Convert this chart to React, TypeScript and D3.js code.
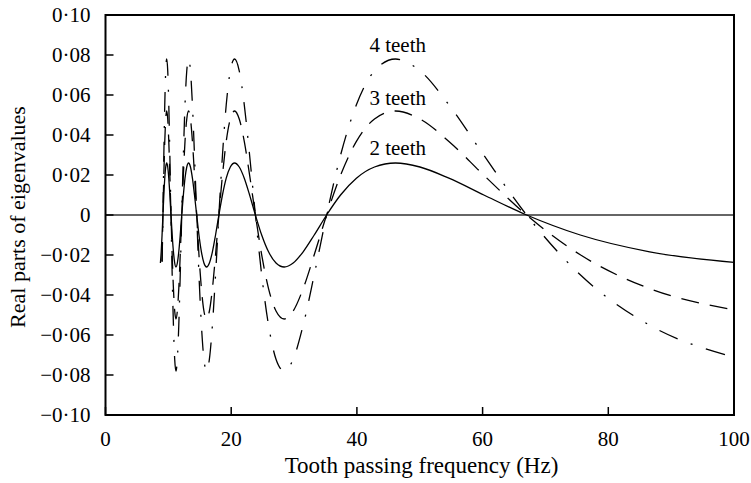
import React from 'react';
import * as d3 from 'd3';

// Tooth passing frequency (Hz) sample points
const freqs = [
  8.735, 8.865, 9.0,
  9.139, 9.282, 9.43, 9.582, 9.739, 9.902, 10.07, 10.24, 10.42, 10.61, 10.81, 11.01, 11.21, 11.43, 11.66, 11.89,
  12.13, 12.39, 12.65, 12.93, 13.21, 13.52, 13.83, 14.16, 14.51, 14.87, 15.26, 15.66, 16.08, 16.53, 17.01, 17.51,
  18.04, 18.61, 19.21, 19.86, 20.54, 21.28, 22.08, 22.93, 23.85, 24.85, 25.94, 27.13, 28.43, 29.86, 31.45, 33.21,
  35.18, 37.4, 39.92, 42.8, 46.14, 50.03, 54.64, 60.19, 67.0, 75.54, 86.58, 100,
];

const teeth2: (number | null)[] = [
  -0.024, -0.0184, -0.01,
  0, 0.01, 0.0184, 0.024, 0.026, 0.024, 0.0184, 0.01, 0, -0.01, -0.0184, -0.024, -0.026, -0.024, -0.0184, -0.01,
  0, 0.01, 0.0184, 0.024, 0.026, 0.024, 0.0184, 0.01, 0, -0.01, -0.0184, -0.024, -0.026, -0.024, -0.0184, -0.01,
  0, 0.01, 0.0184, 0.024, 0.026, 0.024, 0.0184, 0.01, 0, -0.01, -0.0184, -0.024, -0.026, -0.024, -0.0184, -0.01,
  0, 0.01, 0.0184, 0.024, 0.026, 0.024, 0.0184, 0.01, 0, -0.01, -0.0184, -0.0237,
];

const teeth3: (number | null)[] = [
  null, null, -0.023,
  0, 0.0199, 0.0368, 0.048, 0.052, 0.048, 0.0368, 0.0199, 0, -0.0199, -0.0368, -0.048, -0.052, -0.048, -0.0368, -0.0199,
  0, 0.0199, 0.0368, 0.048, 0.052, 0.048, 0.0368, 0.0199, 0, -0.0199, -0.0368, -0.048, -0.052, -0.048, -0.0368, -0.0199,
  0, 0.0199, 0.0368, 0.048, 0.052, 0.048, 0.0368, 0.0199, 0, -0.0199, -0.0368, -0.048, -0.052, -0.048, -0.0368, -0.0199,
  0, 0.0199, 0.0368, 0.048, 0.052, 0.048, 0.0368, 0.0199, 0, -0.0199, -0.0368, -0.0474,
];

const teeth4: (number | null)[] = [
  null, null, -0.0235,
  0, 0.0299, 0.0551, 0.0721, 0.078, 0.0721, 0.0551, 0.0299, 0, -0.0299, -0.0551, -0.0721, -0.078, -0.0721, -0.0551, -0.0299,
  0, 0.0299, 0.0551, 0.0721, 0.078, 0.0721, 0.0551, 0.0299, 0, -0.0299, -0.0551, -0.0721, -0.078, -0.0721, -0.0551, -0.0299,
  0, 0.0299, 0.0551, 0.0721, 0.078, 0.0721, 0.0551, 0.0299, 0, -0.0299, -0.0551, -0.0721, -0.078, -0.0721, -0.0551, -0.0299,
  0, 0.0299, 0.0551, 0.0721, 0.078, 0.0721, 0.0551, 0.0299, 0, -0.0299, -0.0551, -0.0711,
];

const seriesNames = ['2 teeth', '3 teeth', '4 teeth'];
const xTicks = [0, 20, 40, 60, 80, 100];
const yTicks = [-0.1, -0.08, -0.06, -0.04, -0.02, 0, 0.02, 0.04, 0.06, 0.08, 0.1];

const W = 751;
const H = 483;
const FONT_ATTR = 'Liberation Serif, Times New Roman, Tinos, serif';

const fmtY = (v: number) => {
  if (Math.abs(v) < 1e-9) return '0';
  return (v < 0 ? '\u2212' : '') + Math.abs(v).toFixed(2).replace('.', '\u00b7');
};

export default function App() {
  const x = d3.scaleLinear().domain([0, 100]).range([105.5, 734]);
  const y = d3.scaleLinear().domain([-0.1, 0.1]).range([415, 15]);

  const makePath = (vals: (number | null)[]) => {
    const pts = freqs.map((f, i) => [f, vals[i]] as [number, number | null]);
    const line = d3
      .line<[number, number | null]>()
      .defined((d) => d[1] !== null)
      .x((d) => x(d[0]))
      .y((d) => y(d[1] as number))
      .curve(d3.curveMonotoneX);
    return line(pts) || '';
  };

  const series = [
    { vals: teeth2, dash: undefined as string | undefined },
    { vals: teeth3, dash: '18 11' },
    { vals: teeth4, dash: '20 14 2 14' },
  ];

  // label anchor positions (data units)
  const labelPos: [number, number][] = [
    [46.5, 0.03],
    [46.5, 0.055],
    [46.5, 0.0813],
  ];

  const [x0, x1] = x.range();
  const [yb, yt] = y.range();

  return (
    <svg width={W} height={H} style={{ position: 'absolute', left: 0, top: 0 }}>
      <style>{`text { font-family: 'Liberation Serif', 'Times New Roman', Tinos, serif !important; }`}</style>
      <rect x={0} y={0} width={W} height={H} fill="#fff" />
      {/* zero line */}
      <line x1={x0} x2={x1} y1={y(0)} y2={y(0)} stroke="#333" strokeWidth={1.3} />
      {/* curves */}
      {series.map((s, i) => (
        <path
          key={i}
          d={makePath(s.vals)}
          fill="none"
          stroke="#000"
          strokeWidth={1.3}
          strokeDasharray={s.dash}
        />
      ))}
      {/* frame */}
      <rect x={x0} y={yt} width={x1 - x0} height={yb - yt} fill="none" stroke="#000" strokeWidth={2} />
      <g fontFamily={FONT_ATTR} fill="#000">
        {/* y ticks */}
        {yTicks.map((t) => (
          <g key={'y' + t}>
            <line x1={x0} x2={x0 + 8} y1={y(t)} y2={y(t)} stroke="#000" strokeWidth={1.5} />
            <text x={90.5} y={y(t) + 7} textAnchor="end" fontSize={21} fontFamily={FONT_ATTR}>
              {fmtY(t)}
            </text>
          </g>
        ))}
        {/* x ticks */}
        {xTicks.map((t) => (
          <g key={'x' + t}>
            <line x1={x(t)} x2={x(t)} y1={yb} y2={yb - 8} stroke="#000" strokeWidth={1.5} />
            <text x={x(t)} y={446} textAnchor="middle" fontSize={21} fontFamily={FONT_ATTR}>
              {t}
            </text>
          </g>
        ))}
        {/* axis titles */}
        <text x={421.5} y={473} textAnchor="middle" fontSize={23} fontFamily={FONT_ATTR}>
          Tooth passing frequency (Hz)
        </text>
        <text
          transform={`translate(25, ${(yt + yb) / 2 + 2}) rotate(-90)`}
          textAnchor="middle"
          fontSize={22}
          fontFamily={FONT_ATTR}
        >
          Real parts of eigenvalues
        </text>
        {/* series labels */}
        {seriesNames.map((n, i) => (
          <text
            key={n}
            x={x(labelPos[i][0])}
            y={y(labelPos[i][1])}
            textAnchor="middle"
            fontSize={21}
            fontFamily={FONT_ATTR}
          >
            {n}
          </text>
        ))}
      </g>
    </svg>
  );
}
